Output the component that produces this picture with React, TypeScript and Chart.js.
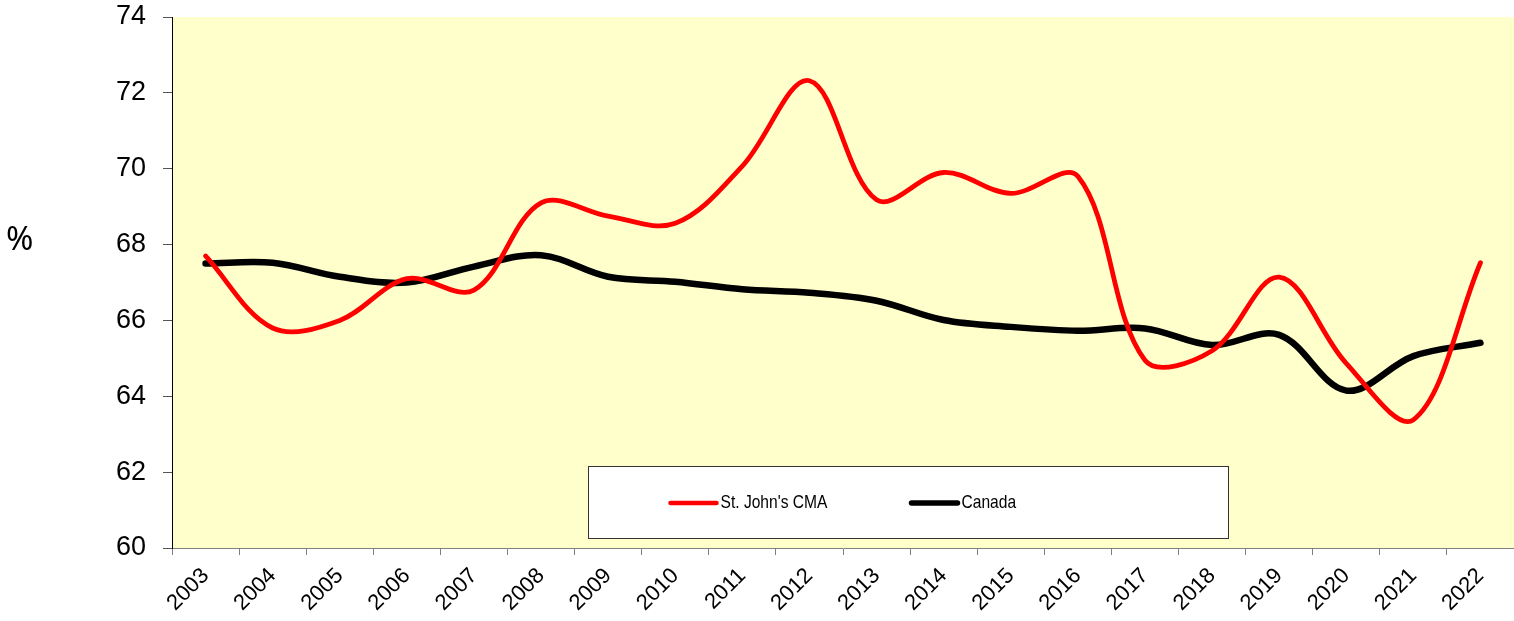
import React, { useEffect, useRef } from "react";
import { Chart, registerables } from "chart.js";

Chart.register(...registerables);

const years = ["2003","2004","2005","2006","2007","2008","2009","2010","2011","2012","2013","2014","2015","2016","2017","2018","2019","2020","2021","2022"];
const stJohns = [67.7, 65.8, 66.0, 67.1, 66.8, 69.1, 68.75, 68.56, 70.07, 72.32, 69.18, 69.9, 69.35, 69.8, 64.95, 65.2, 67.14, 64.87, 63.38, 67.52];
const canada = [67.5, 67.52, 67.15, 67.0, 67.42, 67.72, 67.15, 67.02, 66.82, 66.73, 66.52, 66.01, 65.83, 65.73, 65.79, 65.35, 65.62, 64.15, 65.06, 65.41];
const yTicks = [60, 62, 64, 66, 68, 70, 72, 74];

const bgPlugin = {
  id: "plotBg",
  beforeDraw(chart: any) {
    const { ctx, chartArea: a } = chart;
    ctx.save();
    ctx.fillStyle = "#FFFFCC";
    ctx.fillRect(a.left, a.top, a.right - a.left, a.bottom - a.top);
    ctx.restore();
  },
};

const legendPlugin = {
  id: "boxLegend",
  afterDraw(chart: any) {
    const { ctx, chartArea: a } = chart;
    const x = a.left + 416.5;
    const y = a.bottom - 81.5;
    const w = 640;
    const h = 72;
    ctx.save();
    ctx.fillStyle = "#FFFFFF";
    ctx.fillRect(x, y, w, h);
    ctx.strokeStyle = "#333333";
    ctx.lineWidth = 1;
    ctx.strokeRect(x, y, w, h);
    const items = chart.data.datasets;
    const starts = [x + 82, x + 323];
    ctx.font = '19px "Liberation Sans", Arial, sans-serif';
    ctx.textBaseline = "middle";
    ctx.lineCap = "round";
    items.forEach((ds: any, i: number) => {
      const sx = starts[i];
      const cy = y + 36.5;
      ctx.strokeStyle = ds.borderColor;
      ctx.lineWidth = i === 0 ? 4.5 : 5.5;
      ctx.beginPath();
      ctx.moveTo(sx, cy);
      ctx.lineTo(sx + 46, cy);
      ctx.stroke();
      ctx.fillStyle = "#000000";
      ctx.save();
      ctx.translate(sx + 50, cy);
      ctx.scale(0.82, 1);
      ctx.fillText(ds.label, 0, 0);
      ctx.restore();
    });
    ctx.restore();
  },
};

export default function App() {
  const ref = useRef<HTMLCanvasElement | null>(null);
  useEffect(() => {
    if (!ref.current) return;
    const chart = new Chart(ref.current, {
      type: "line",
      data: {
        labels: years,
        datasets: [
          {
            label: "St. John's CMA",
            data: stJohns,
            borderColor: "#FF0000",
            borderWidth: 4.8,
            pointRadius: 0,
            tension: 0.35,
            borderCapStyle: "round",
            fill: false,
          },
          {
            label: "Canada",
            data: canada,
            borderColor: "#000000",
            borderWidth: 6.5,
            pointRadius: 0,
            tension: 0.35,
            borderCapStyle: "round",
            fill: false,
          },
        ],
      },
      options: {
        animation: false,
        responsive: false,
        maintainAspectRatio: false,
        layout: { padding: { top: 0, right: 0, left: 0, bottom: 0 } },
        plugins: {
          legend: { display: false },
          tooltip: { enabled: false },
        },
        scales: {
          x: {
            offset: true,
            grid: {
              offset: true,
              drawOnChartArea: false,
              drawTicks: true,
              tickLength: 7,
              color: "#808080",
            },
            border: { color: "#808080", width: 1 },
            ticks: {
              autoSkip: false,
              maxRotation: 45,
              minRotation: 45,
              color: "#000000",
              padding: 8,
              font: { family: '"Liberation Sans", Arial, sans-serif', size: 22 },
            },
            afterFit(scale: any) {
              scale.height = 73;
              scale.paddingLeft = 0;
              scale.paddingRight = 0;
            },
          },
          y: {
            min: 60,
            max: 74,
            afterBuildTicks(scale: any) {
              scale.ticks = yTicks.map((v) => ({ value: v }));
            },
            grid: {
              drawOnChartArea: false,
              drawTicks: true,
              tickLength: 9,
              color: "#555555",
            },
            border: { color: "#000000", width: 1 },
            ticks: {
              color: "#000000",
              padding: 17,
              font: { family: '"Liberation Sans", Arial, sans-serif', size: 27 },
            },
            afterFit(scale: any) {
              scale.width = 172;
              scale.paddingTop = 17;
              scale.paddingBottom = 0;
            },
          },
        },
      },
      plugins: [bgPlugin, legendPlugin],
    });
    return () => chart.destroy();
  }, []);

  return (
    <div style={{ position: "absolute", left: 0, top: 0, width: 1514, height: 621, background: "#FFFFFF" }}>
      <canvas ref={ref} width={1514} height={621} style={{ display: "block" }} />
      <div
        style={{
          position: "absolute",
          left: 6,
          top: 216,
          fontFamily: '"Noto Sans", "DejaVu Sans", sans-serif',
          fontSize: 33,
          color: "#000000",
          lineHeight: "44px",
        }}
      >
        %
      </div>
    </div>
  );
}
